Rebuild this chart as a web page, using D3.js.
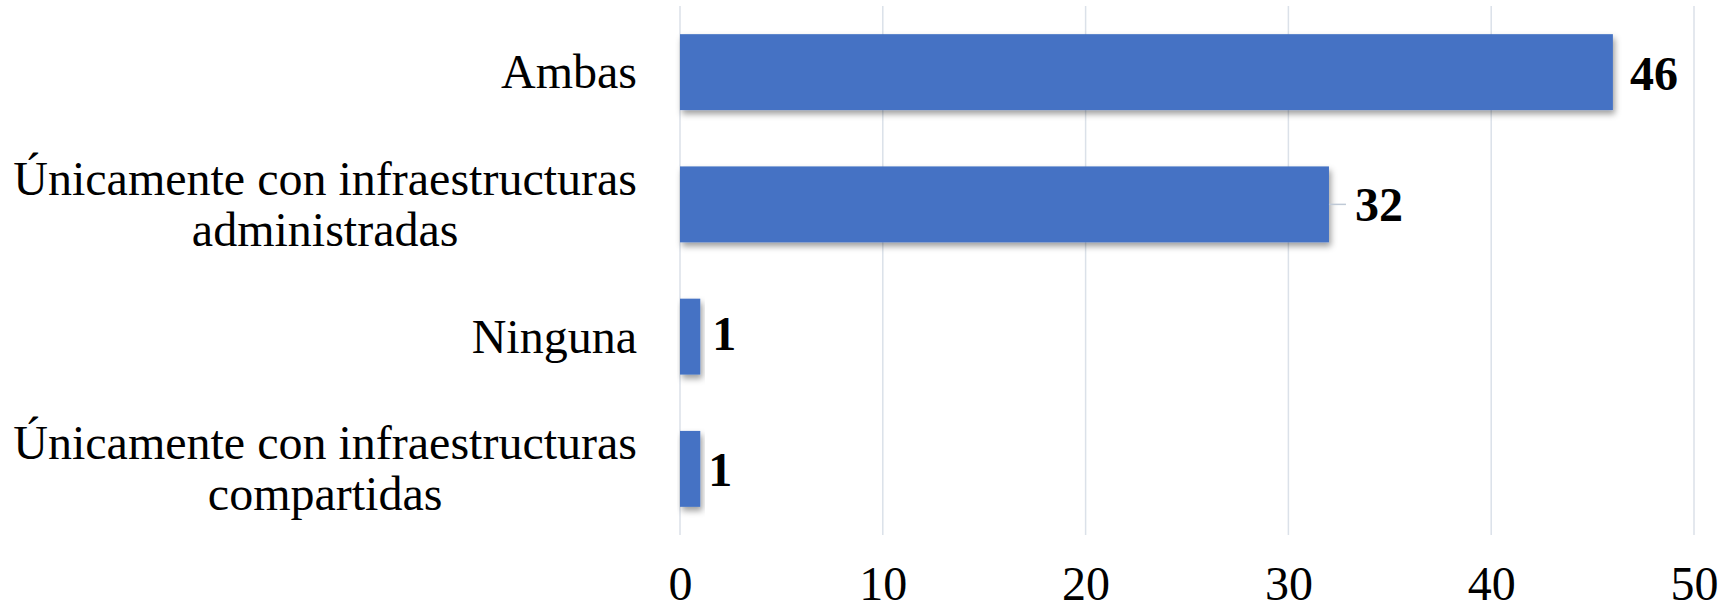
<!DOCTYPE html>
<html>
<head>
<meta charset="utf-8">
<script src="https://cdn.jsdelivr.net/npm/d3@7"></script>
<style>
  html, body { margin: 0; padding: 0; background: #ffffff; }
  svg { display: block; }
</style>
</head>
<body>
<svg id="chart" width="1728" height="611"></svg>
<script>
// ---- data ----
const categories = [
  ["Ambas"],
  ["Únicamente con infraestructuras", "administradas"],
  ["Ninguna"],
  ["Únicamente con infraestructuras", "compartidas"]
];
const values = [46, 32, 1, 1];
const tickValues = [0, 10, 20, 30, 40, 50];

// ---- style / layout ----
const W = 1728, H = 611;
const plot = { left: 680, right: 1694, top: 6, bottom: 535 };
const labelRight = 637;
const fontFamily = "'Liberation Serif', 'Times New Roman', Times, serif";
const fontSize = 48;
const barColor = "#4472C4";
const gridColor = "#dbe1e9";
const labelGap = [17, 26, 12, 8];     // data-label gap from bar end (px)
const labelDy = [18, 17, 13, 17];      // baseline offset from band centre

const svg = d3.select("#chart");

const defs = svg.append("defs");
const f = defs.append("filter").attr("id", "shadow")
  .attr("x", "-10%").attr("y", "-20%").attr("width", "130%").attr("height", "160%");
f.append("feDropShadow").attr("dx", 2).attr("dy", 4).attr("stdDeviation", 3)
  .attr("flood-color", "#000").attr("flood-opacity", 0.38);

const x = d3.scaleLinear().domain([0, 50]).range([plot.left, plot.right]);
const y = d3.scaleBand().domain(d3.range(categories.length))
  .range([plot.top, plot.bottom]).paddingInner(0.426).paddingOuter(0.213);

// gridlines
svg.append("g").selectAll("line").data(tickValues).join("line")
  .attr("x1", d => x(d)).attr("x2", d => x(d))
  .attr("y1", plot.top).attr("y2", plot.bottom)
  .attr("stroke", gridColor).attr("stroke-width", 1.5);

// x axis labels
const xAxis = d3.axisBottom(x).tickValues(tickValues).tickSize(0).tickPadding(0);
const gx = svg.append("g").attr("transform", `translate(0,${plot.bottom})`).call(xAxis);
gx.select(".domain").remove();
gx.selectAll("text")
  .attr("y", 65).attr("dy", 0)
  .attr("font-family", fontFamily).attr("font-size", fontSize).attr("fill", "#000");

// bars
svg.append("g").selectAll("rect").data(values).join("rect")
  .attr("x", x(0))
  .attr("y", (d, i) => y(i))
  .attr("width", d => x(d) - x(0))
  .attr("height", y.bandwidth())
  .attr("fill", barColor)
  .attr("filter", "url(#shadow)");

// leader line for labels placed away from bar
values.forEach((v, i) => {
  if (labelGap[i] > 20) {
    svg.append("line")
      .attr("x1", x(v)).attr("x2", x(v) + labelGap[i] - 9)
      .attr("y1", y(i) + y.bandwidth() / 2).attr("y2", y(i) + y.bandwidth() / 2)
      .attr("stroke", "#bfc9d6").attr("stroke-width", 1.5);
  }
});

// data labels
svg.append("g").selectAll("text").data(values).join("text")
  .attr("x", (d, i) => x(d) + labelGap[i])
  .attr("y", (d, i) => y(i) + y.bandwidth() / 2 + labelDy[i])
  .attr("font-family", fontFamily).attr("font-size", fontSize)
  .attr("font-weight", "bold").attr("fill", "#000")
  .text(d => d);

// category labels (block right-aligned, lines centred within block)
const lineH = 51;
categories.forEach((lines, i) => {
  const g = svg.append("g");
  const texts = lines.map(t => g.append("text")
    .attr("font-family", fontFamily).attr("font-size", fontSize)
    .attr("fill", "#000").attr("text-anchor", "middle").text(t));
  const maxW = d3.max(texts, t => t.node().getComputedTextLength());
  const cx = labelRight - maxW / 2;
  const cy = y(i) + y.bandwidth() / 2;
  const n = lines.length;
  texts.forEach((t, j) => {
    t.attr("x", cx).attr("y", cy + (j - (n - 1) / 2) * lineH + 16);
  });
});
</script>
</body>
</html>
